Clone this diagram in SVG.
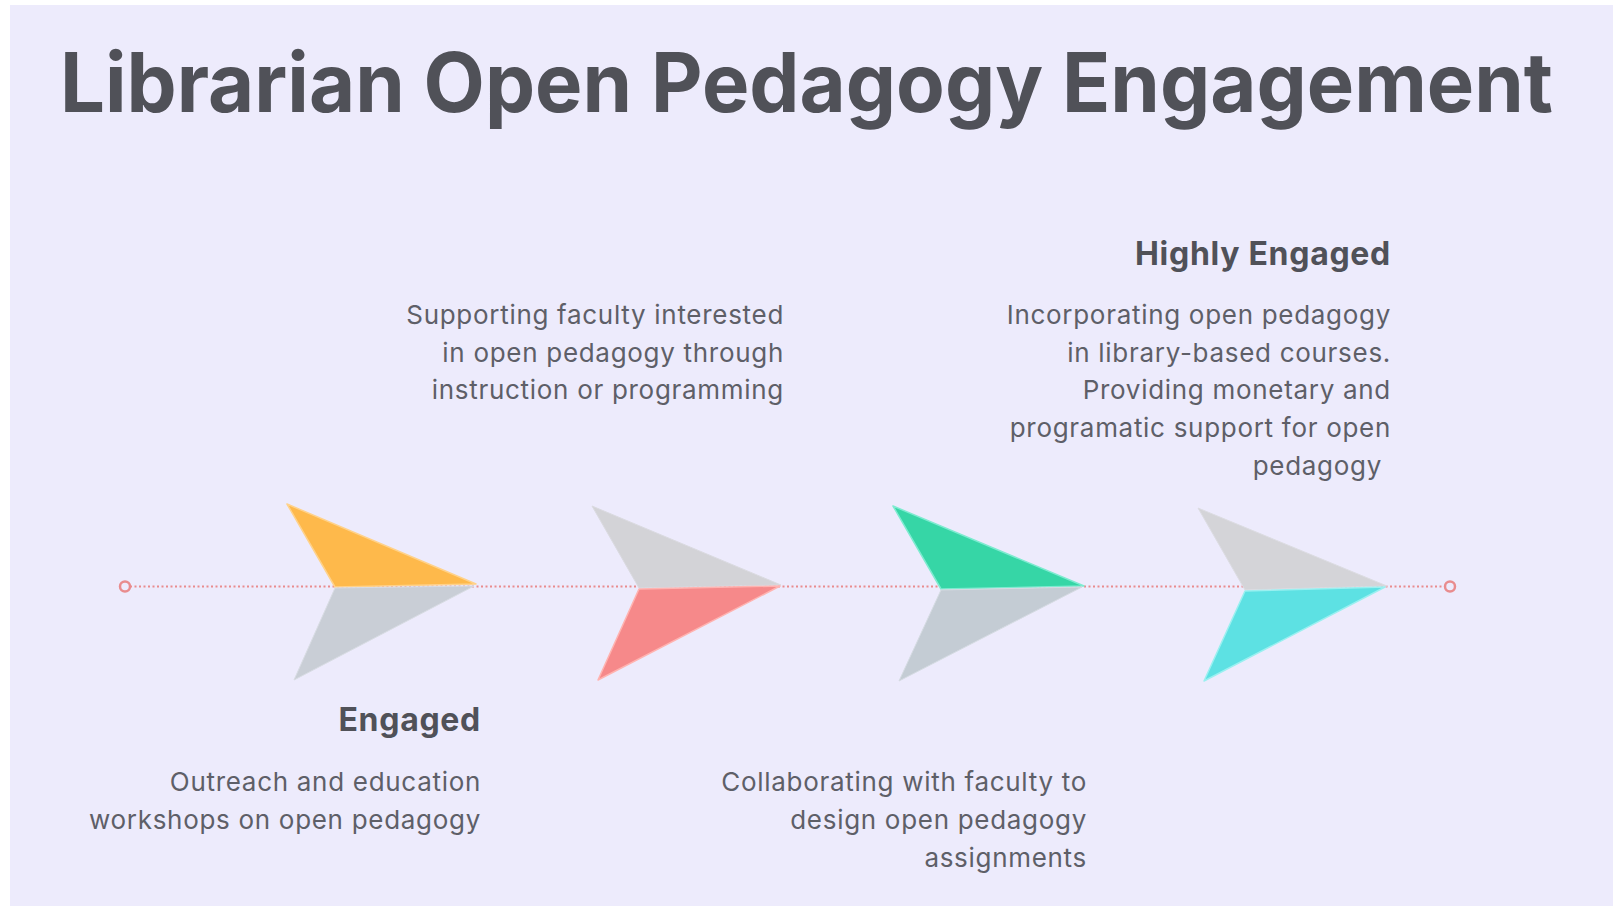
<svg xmlns="http://www.w3.org/2000/svg" width="1613" height="906" viewBox="0 0 1613 906">
<style>
.bg{fill:#EDEBFC}
.title{font-family:Inter,"Noto Sans",sans-serif;font-weight:700;font-size:82px;fill:#505158}
.head{font-family:Inter,"Noto Sans",sans-serif;font-weight:700;font-size:32px;letter-spacing:0.7px;fill:#505158;text-anchor:end}
.body{font-family:Inter,"Noto Sans",sans-serif;font-weight:400;font-size:26px;letter-spacing:0.7px;fill:#5E5F68;text-anchor:end}
.line{stroke:#E98C8E;stroke-width:2;stroke-dasharray:2 2.5;fill:none}
.end{fill:none;stroke:#E98C8E;stroke-width:2.5}
</style>
<rect x="0" y="0" width="1613" height="906" fill="#FFFFFF"/>
<rect class="bg" x="10" y="5" width="1603" height="901"/>
<text class="title" x="60" y="112" textLength="1493" lengthAdjust="spacingAndGlyphs">Librarian Open Pedagogy Engagement</text>
<g id="connectors">
<line class="line" x1="130" y1="586.5" x2="1445" y2="586.5"/>
<circle class="end" cx="125" cy="586.5" r="5"/>
<circle class="end" cx="1450" cy="586.5" r="5"/>
</g>
<g id="stage1">
<polygon points="287,504 476,584 335,587" fill="#FEB94B" stroke="#FFD28A" stroke-width="1.5" stroke-linejoin="round"/>
<polygon points="335,588 474,586 294,680" fill="#C9CED6" stroke="#D8DCE3" stroke-width="1" stroke-linejoin="round"/>
<text class="head" x="481" y="731">Engaged</text>
<text class="body" x="481" y="791">Outreach and education</text>
<text class="body" x="481" y="829">workshops on open pedagogy</text>
</g>
<g id="stage2">
<polygon points="592,506 781,585 639,588" fill="#D3D3D7" stroke="#DADAE0" stroke-width="1" stroke-linejoin="round"/>
<polygon points="639,589 780,586 598,680" fill="#F6898A" stroke="#FFB3B0" stroke-width="1.5" stroke-linejoin="round"/>
<text class="body" x="784" y="324">Supporting faculty interested</text>
<text class="body" x="784" y="361.7">in open pedagogy through</text>
<text class="body" x="784" y="399.4">instruction or programming</text>
</g>
<g id="stage3">
<polygon points="893,506 1084,586 941,589" fill="#36D6A6" stroke="#7EEBD0" stroke-width="1.5" stroke-linejoin="round"/>
<polygon points="941,590 1082,587 899,681" fill="#C4CCD4" stroke="#D5DBE2" stroke-width="1" stroke-linejoin="round"/>
<text class="body" x="1087" y="791">Collaborating with faculty to</text>
<text class="body" x="1087" y="829">design open pedagogy</text>
<text class="body" x="1087" y="867">assignments</text>
</g>
<g id="stage4">
<polygon points="1198,508 1387,586 1245,590" fill="#D4D4D8" stroke="#DCDCE2" stroke-width="1" stroke-linejoin="round"/>
<polygon points="1245,591 1385,587 1204,681" fill="#5DE1E3" stroke="#9AF0F0" stroke-width="1.5" stroke-linejoin="round"/>
<text class="head" x="1391" y="265">Highly Engaged</text>
<text class="body" x="1391" y="324">Incorporating open pedagogy</text>
<text class="body" x="1391" y="361.7">in library-based courses.</text>
<text class="body" x="1391" y="399.4">Providing monetary and</text>
<text class="body" x="1391" y="437.1">programatic support for open</text>
<text class="body" x="1382" y="474.8">pedagogy</text>
</g>
</svg>
